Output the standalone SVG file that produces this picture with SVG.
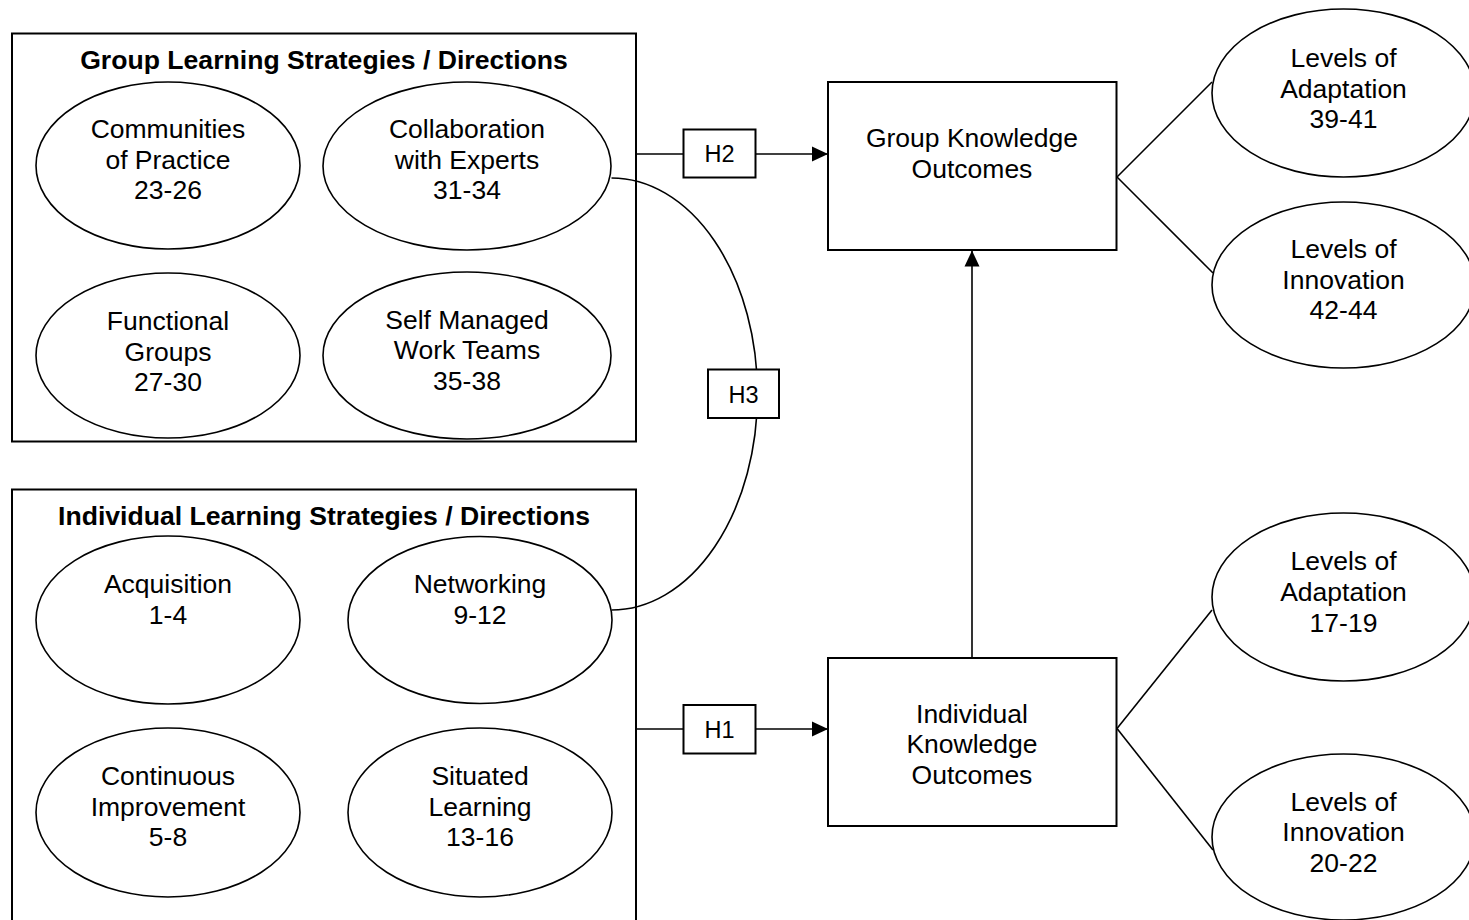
<svg xmlns="http://www.w3.org/2000/svg" width="1469" height="920" viewBox="0 0 1469 920">
<defs>
<style>
text{font-family:"Liberation Sans",Arial,sans-serif;font-size:26.5px;fill:#000;text-anchor:middle}
.t{font-weight:bold;font-size:26.6px}
.h{font-size:23.5px}
.box{fill:#fff;stroke:#000;stroke-width:2}
.el{fill:#fff;stroke:#000;stroke-width:1.6}
.ln{fill:none;stroke:#000;stroke-width:1.6}
</style>
<marker id="ah" viewBox="0 0 16 16" refX="16" refY="8" markerWidth="16" markerHeight="16" markerUnits="userSpaceOnUse" orient="auto">
<path d="M0,0.5 L16,8 L0,15.5 Z" fill="#000"/>
</marker>
</defs>
<rect width="1469" height="920" fill="#fff"/>

<g id="group-strategies">
<rect class="box" x="12" y="33.5" width="624" height="408"/>
<text class="t" x="324" y="69">Group Learning Strategies / Directions</text>
</g>
<g id="communities">
<ellipse class="el" cx="168" cy="165.5" rx="132" ry="83.5"/>
<text x="168" y="138">Communities</text><text x="168" y="168.5">of Practice</text><text x="168" y="199">23-26</text>
</g>
<g id="collaboration">
<ellipse class="el" cx="467" cy="166" rx="144" ry="84"/>
<text x="467" y="138">Collaboration</text><text x="467" y="168.5">with Experts</text><text x="467" y="199">31-34</text>
</g>
<g id="functional">
<ellipse class="el" cx="168" cy="355.5" rx="132" ry="82.5"/>
<text x="168" y="330">Functional</text><text x="168" y="360.5">Groups</text><text x="168" y="391">27-30</text>
</g>
<g id="self-managed">
<ellipse class="el" cx="467" cy="355.5" rx="144" ry="83.5"/>
<text x="467" y="328.5">Self Managed</text><text x="467" y="359">Work Teams</text><text x="467" y="389.5">35-38</text>
</g>

<g id="individual-strategies">
<rect class="box" x="12" y="489.5" width="624" height="440"/>
<text class="t" x="324" y="525">Individual Learning Strategies / Directions</text>
</g>
<g id="acquisition">
<ellipse class="el" cx="168" cy="620" rx="132" ry="84"/>
<text x="168" y="593">Acquisition</text><text x="168" y="623.5">1-4</text>
</g>
<g id="networking">
<ellipse class="el" cx="480" cy="620" rx="132" ry="83.5"/>
<text x="480" y="593">Networking</text><text x="480" y="623.5">9-12</text>
</g>
<g id="continuous">
<ellipse class="el" cx="168" cy="812.5" rx="132" ry="84.5"/>
<text x="168" y="785">Continuous</text><text x="168" y="815.5">Improvement</text><text x="168" y="846">5-8</text>
</g>
<g id="situated">
<ellipse class="el" cx="480" cy="812.5" rx="132" ry="84.5"/>
<text x="480" y="785">Situated</text><text x="480" y="815.5">Learning</text><text x="480" y="846">13-16</text>
</g>

<g id="connectors">
<path class="ln" d="M611.5,178 A146,216 0 0 1 611.5,610"/>
<line class="ln" x1="636" y1="154" x2="683" y2="154"/>
<line class="ln" x1="756" y1="154" x2="828" y2="154" marker-end="url(#ah)"/>
<line class="ln" x1="636" y1="729" x2="683" y2="729"/>
<line class="ln" x1="756" y1="729" x2="828" y2="729" marker-end="url(#ah)"/>
<line class="ln" x1="972" y1="658" x2="972" y2="250.5" marker-end="url(#ah)"/>
<line class="ln" x1="1117" y1="177" x2="1212" y2="82"/>
<line class="ln" x1="1117" y1="177" x2="1213" y2="273"/>
<line class="ln" x1="1117" y1="728.5" x2="1212" y2="610"/>
<line class="ln" x1="1117" y1="728.5" x2="1213" y2="850"/>
</g>

<g id="h2">
<rect class="box" x="683.5" y="129.5" width="72" height="48"/>
<text class="h" x="719.5" y="162">H2</text>
</g>
<g id="h1">
<rect class="box" x="683.5" y="705" width="72" height="48.5"/>
<text class="h" x="719.5" y="737.5">H1</text>
</g>
<g id="h3">
<rect class="box" x="708" y="369.5" width="71" height="48.5"/>
<text class="h" x="743.5" y="403">H3</text>
</g>

<g id="group-knowledge">
<rect class="box" x="828" y="82" width="288.5" height="168"/>
<text x="972" y="147">Group Knowledge</text><text x="972" y="177.5">Outcomes</text>
</g>
<g id="individual-knowledge">
<rect class="box" x="828" y="658" width="288.5" height="168"/>
<text x="972" y="722.5">Individual</text><text x="972" y="753">Knowledge</text><text x="972" y="783.5">Outcomes</text>
</g>

<g id="adaptation-39">
<ellipse class="el" cx="1343.5" cy="93" rx="131.5" ry="84"/>
<text x="1343.5" y="67">Levels of</text><text x="1343.5" y="97.5">Adaptation</text><text x="1343.5" y="128">39-41</text>
</g>
<g id="innovation-42">
<ellipse class="el" cx="1343.5" cy="285" rx="131.5" ry="83"/>
<text x="1343.5" y="258">Levels of</text><text x="1343.5" y="288.5">Innovation</text><text x="1343.5" y="319">42-44</text>
</g>
<g id="adaptation-17">
<ellipse class="el" cx="1343.5" cy="597" rx="131.5" ry="84"/>
<text x="1343.5" y="570">Levels of</text><text x="1343.5" y="600.5">Adaptation</text><text x="1343.5" y="631.5">17-19</text>
</g>
<g id="innovation-20">
<ellipse class="el" cx="1343.5" cy="837" rx="131.5" ry="83"/>
<text x="1343.5" y="810.5">Levels of</text><text x="1343.5" y="841">Innovation</text><text x="1343.5" y="871.5">20-22</text>
</g>
</svg>
